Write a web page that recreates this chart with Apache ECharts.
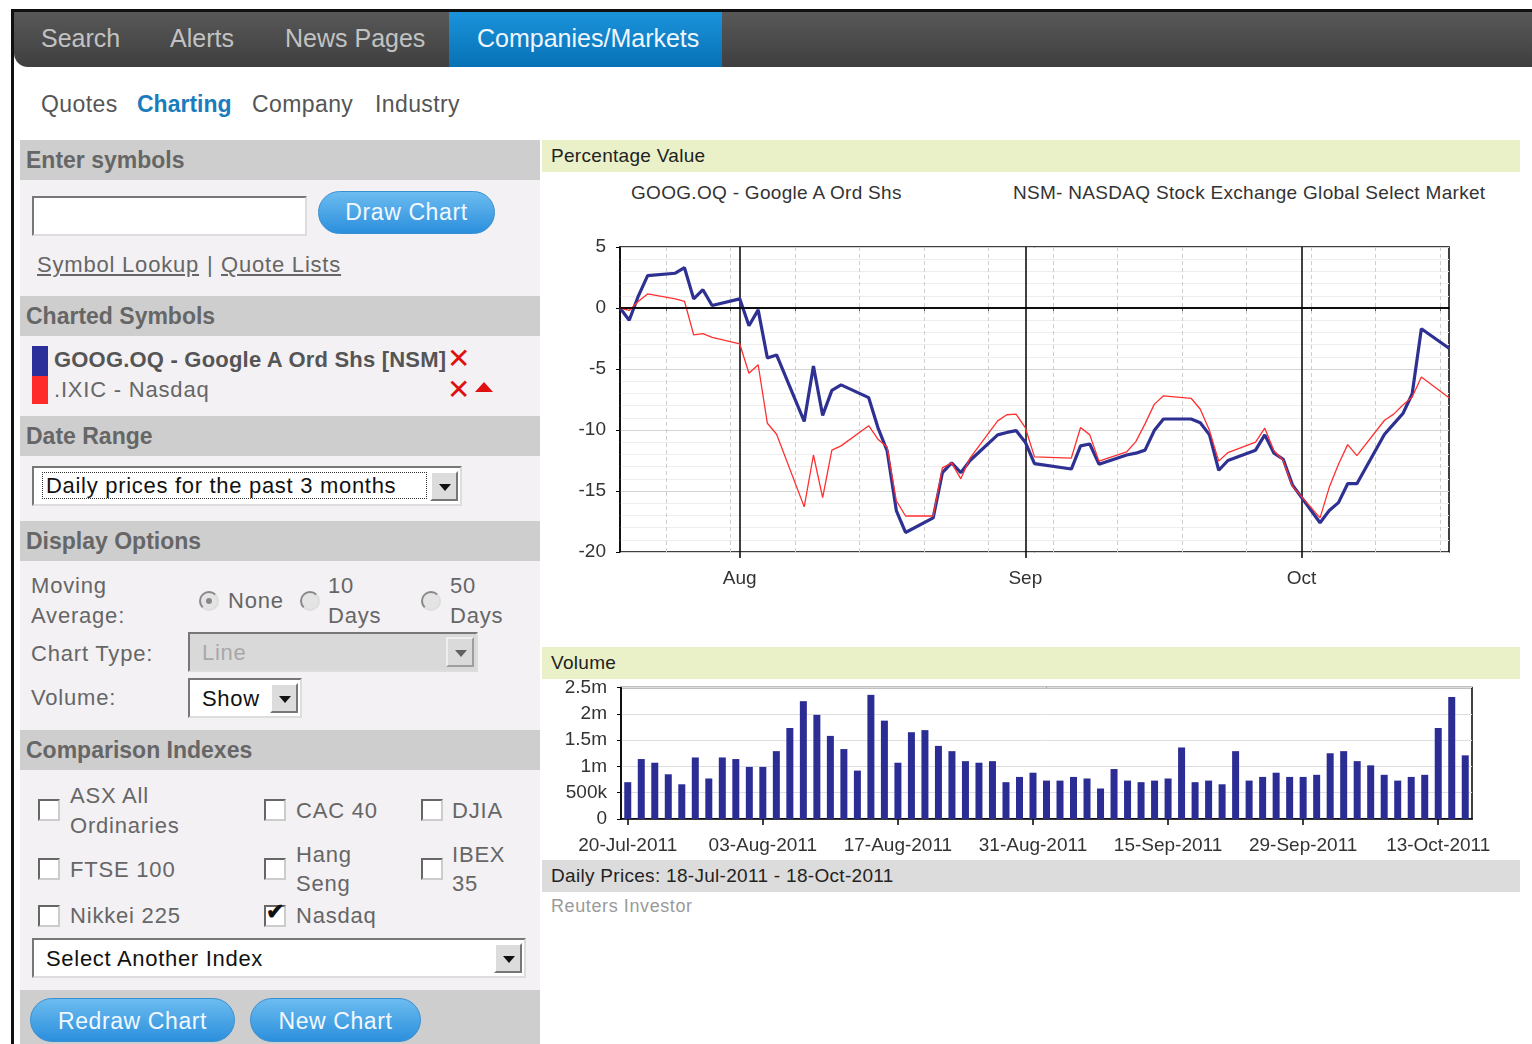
<!DOCTYPE html>
<html lang="en">
<head>
<meta charset="UTF-8">
<title>Charting</title>
<script src="https://cdn.jsdelivr.net/npm/echarts@6/dist/echarts.min.js"></script>
<style>
* { margin: 0; padding: 0; box-sizing: border-box; }
body {
    width: 1532px; height: 1044px; position: relative; overflow: hidden;
    background: #fff; color: #666;
    font-family: "Liberation Sans", Arial, sans-serif;
}
.abs { position: absolute; white-space: nowrap; }

#frameTop { left: 11px; top: 9px; width: 1521px; height: 3px; background: #111; }
#frameLeft { left: 11px; top: 9px; width: 3px; height: 1035px; background: #111; }

#nav { left: 14px; top: 12px; width: 1518px; height: 55px; background: linear-gradient(#585858, #3f3f3f); border-bottom-left-radius: 14px; }
#navActive { left: 449px; top: 12px; width: 273px; height: 55px; background: linear-gradient(#1b93db, #0771b5); }
.nav { top: 12px; height: 53px; line-height: 53px; font-size: 25px; color: #c2c2c2; }
.sub { top: 88px; height: 32px; line-height: 32px; font-size: 23px; letter-spacing: 0.4px; color: #555; }

#panel { left: 20px; top: 140px; width: 520px; height: 904px; background: #f3f1f4; }
.hdr { left: 20px; width: 520px; height: 40px; line-height: 40px; padding-left: 6px; background: #cecece; font-size: 23px; font-weight: bold; color: #666; }
.txt { font-size: 22px; letter-spacing: 0.8px; color: #666; }
.input { background: #fff; border: 2px solid #777; border-right-color: #ddd; border-bottom-color: #ddd; }
.btn { border-radius: 22px; background: linear-gradient(#6cbcf0, #2b8fdc); color: #f2f8ff; font-size: 23px; letter-spacing: 0.6px; text-align: center; border: 1px solid #3a8fd0; }
.select { background: #fff; border: 2px solid #777; border-right-color: #ddd; border-bottom-color: #ddd; font-size: 22px; letter-spacing: 0.7px; color: #111; padding-left: 8px; }
.drop { position: absolute; right: 2px; top: 3px; width: 28px; bottom: 3px; background: #dcdcdc; border: 2px solid #fff; border-right-color: #777; border-bottom-color: #777; }
.drop::after { content: ""; position: absolute; left: 7px; top: 11px; border-left: 6px solid transparent; border-right: 6px solid transparent; border-top: 7px solid #111; }
.radio { width: 20px; height: 20px; border-radius: 50%; background: #e4e4e4; border: 2px solid #888; border-right-color: #ddd; border-bottom-color: #ddd; }
.check { width: 22px; height: 22px; background: #fff; border: 2px solid #666; border-right-color: #ccc; border-bottom-color: #ccc; }

.band { left: 542px; width: 978px; height: 32px; line-height: 32px; padding-left: 9px; background: #eaf1c8; font-size: 19px; letter-spacing: 0.3px; color: #222; }
.sub2 { top: 182px; font-size: 19px; letter-spacing: 0.3px; color: #333; }

#lineChart { position: absolute; left: 542px; top: 172px; width: 990px; height: 440px; }
#volChart { position: absolute; left: 542px; top: 678px; width: 990px; height: 182px; }
</style>
</head>
<body>
<div id="frameTop" class="abs"></div>
<div id="frameLeft" class="abs"></div>

<div id="nav" class="abs"></div>
<div id="navActive" class="abs"></div>
<div class="abs nav" style="left:41px">Search</div>
<div class="abs nav" style="left:170px">Alerts</div>
<div class="abs nav" style="left:285px">News Pages</div>
<div class="abs nav" style="left:477px;color:#eef6ff">Companies/Markets</div>

<div class="abs sub" style="left:41px">Quotes</div>
<div class="abs sub" style="left:137px;color:#1a7cbc;font-weight:bold;letter-spacing:0">Charting</div>
<div class="abs sub" style="left:252px">Company</div>
<div class="abs sub" style="left:375px">Industry</div>

<!-- left panel -->
<div id="panel" class="abs"></div>
<div class="abs hdr" style="top:140px">Enter symbols</div>
<div class="abs input" style="left:32px;top:196px;width:275px;height:40px"></div>
<div class="abs btn" style="left:318px;top:191px;width:177px;height:43px;line-height:41px">Draw Chart</div>
<div class="abs txt" style="left:37px;top:252px;text-decoration:underline">Symbol Lookup</div>
<div class="abs txt" style="left:207px;top:252px">|</div>
<div class="abs txt" style="left:221px;top:252px;text-decoration:underline">Quote Lists</div>

<div class="abs hdr" style="top:296px">Charted Symbols</div>
<div class="abs" style="left:32px;top:346px;width:16px;height:30px;background:#2b2f99"></div>
<div class="abs" style="left:32px;top:376px;width:16px;height:28px;background:#ff2a2a"></div>
<div class="abs" style="left:54px;top:347px;font-size:22px;font-weight:bold;color:#555;letter-spacing:0.2px">GOOG.OQ - Google A Ord Shs [NSM]</div>
<div class="abs" style="left:54px;top:377px;font-size:22px;color:#666;letter-spacing:0.8px">.IXIC - Nasdaq</div>
<div class="abs" style="left:447px;top:342px;font-size:28px;color:#e01010">&#x2715;</div>
<div class="abs" style="left:447px;top:373px;font-size:28px;color:#e01010">&#x2715;</div>
<div class="abs" style="left:475px;top:382px;width:0;height:0;border-left:9px solid transparent;border-right:9px solid transparent;border-bottom:10px solid #e01010"></div>

<div class="abs hdr" style="top:416px">Date Range</div>
<div class="abs select" style="left:32px;top:466px;width:430px;height:40px;line-height:36px">
    <span style="border:1px dotted #333;padding:0 30px 0 3px">Daily prices for the past 3 months</span>
    <div class="drop"></div>
</div>

<div class="abs hdr" style="top:521px">Display Options</div>
<div class="abs txt" style="left:31px;top:573px">Moving</div>
<div class="abs txt" style="left:31px;top:603px">Average:</div>
<div class="abs radio" style="left:199px;top:591px"></div>
<div class="abs" style="left:206px;top:598px;width:6px;height:6px;border-radius:50%;background:#888"></div>
<div class="abs txt" style="left:228px;top:588px">None</div>
<div class="abs radio" style="left:300px;top:591px"></div>
<div class="abs txt" style="left:328px;top:573px">10</div>
<div class="abs txt" style="left:328px;top:603px">Days</div>
<div class="abs radio" style="left:421px;top:591px"></div>
<div class="abs txt" style="left:450px;top:573px">50</div>
<div class="abs txt" style="left:450px;top:603px">Days</div>
<div class="abs txt" style="left:31px;top:641px">Chart Type:</div>
<div class="abs select" style="left:188px;top:632px;width:290px;height:40px;line-height:38px;background:#d9d9d9;color:#a8a8a8;padding-left:12px">Line<div class="drop" style="opacity:0.6"></div></div>
<div class="abs txt" style="left:31px;top:685px">Volume:</div>
<div class="abs select" style="left:188px;top:678px;width:114px;height:40px;line-height:38px;padding-left:12px">Show<div class="drop"></div></div>

<div class="abs hdr" style="top:730px">Comparison Indexes</div>
<div class="abs check" style="left:38px;top:799px"></div>
<div class="abs txt" style="left:70px;top:783px">ASX All</div>
<div class="abs txt" style="left:70px;top:813px">Ordinaries</div>
<div class="abs check" style="left:264px;top:799px"></div>
<div class="abs txt" style="left:296px;top:798px">CAC 40</div>
<div class="abs check" style="left:421px;top:799px"></div>
<div class="abs txt" style="left:452px;top:798px">DJIA</div>
<div class="abs check" style="left:38px;top:858px"></div>
<div class="abs txt" style="left:70px;top:857px">FTSE 100</div>
<div class="abs check" style="left:264px;top:858px"></div>
<div class="abs txt" style="left:296px;top:842px">Hang</div>
<div class="abs txt" style="left:296px;top:871px">Seng</div>
<div class="abs check" style="left:421px;top:858px"></div>
<div class="abs txt" style="left:452px;top:842px">IBEX</div>
<div class="abs txt" style="left:452px;top:871px">35</div>
<div class="abs check" style="left:38px;top:905px"></div>
<div class="abs txt" style="left:70px;top:903px">Nikkei 225</div>
<div class="abs check" style="left:264px;top:905px"></div>
<div class="abs" style="left:266px;top:899px;font-size:22px;color:#111;font-weight:bold">&#x2714;</div>
<div class="abs txt" style="left:296px;top:903px">Nasdaq</div>
<div class="abs select" style="left:32px;top:938px;width:494px;height:40px;line-height:38px;padding-left:12px">Select Another Index<div class="drop"></div></div>

<div class="abs" style="left:20px;top:990px;width:520px;height:54px;background:#cecece"></div>
<div class="abs btn" style="left:30px;top:998px;width:205px;height:44px;line-height:44px">Redraw Chart</div>
<div class="abs btn" style="left:250px;top:998px;width:171px;height:44px;line-height:44px">New Chart</div>

<!-- right side -->
<div class="abs band" style="top:140px">Percentage Value</div>
<div class="abs sub2" style="left:631px">GOOG.OQ - Google A Ord Shs</div>
<div class="abs sub2" style="left:1013px">NSM- NASDAQ Stock Exchange Global Select Market</div>
<div id="lineChart"></div>
<div class="abs band" style="top:647px">Volume</div>
<div id="volChart"></div>
<div class="abs band" style="top:860px;background:#dcdcdc">Daily Prices: 18-Jul-2011 - 18-Oct-2011</div>
<div class="abs" style="left:551px;top:896px;font-size:18px;letter-spacing:0.6px;color:#9a9a9a">Reuters Investor</div>

<script>
// trading days shown on the percentage chart
const tradeDates = [
    '2011-07-19', '2011-07-20', '2011-07-21', '2011-07-22', '2011-07-25', '2011-07-26', '2011-07-27', '2011-07-28', '2011-07-29',
    '2011-08-01', '2011-08-02', '2011-08-03', '2011-08-04', '2011-08-05', '2011-08-08', '2011-08-09', '2011-08-10', '2011-08-11',
    '2011-08-12', '2011-08-15', '2011-08-16', '2011-08-17', '2011-08-18', '2011-08-19', '2011-08-22', '2011-08-23', '2011-08-24',
    '2011-08-25', '2011-08-26', '2011-08-29', '2011-08-30', '2011-08-31',
    '2011-09-01', '2011-09-02', '2011-09-06', '2011-09-07', '2011-09-08', '2011-09-09', '2011-09-12', '2011-09-13', '2011-09-14',
    '2011-09-15', '2011-09-16', '2011-09-19', '2011-09-20', '2011-09-21', '2011-09-22', '2011-09-23', '2011-09-26', '2011-09-27',
    '2011-09-28', '2011-09-29', '2011-09-30',
    '2011-10-03', '2011-10-04', '2011-10-05', '2011-10-06', '2011-10-07', '2011-10-10', '2011-10-11', '2011-10-12', '2011-10-13',
    '2011-10-14', '2011-10-17'
];

const googPct = [
    0, -1.0, 1.0, 2.65, 2.85, 3.3, 0.75, 1.5, 0.2,
    0.75, -1.45, -0.15, -4.1, -3.85, -9.3, -4.75, -8.8, -6.75, -6.3, -7.35, -9.8, -11.7, -16.6, -18.4,
    -17.2, -13.5, -12.7, -13.5, -12.5, -10.4, -10.2, -10.05,
    -11.0, -12.75, -13.2, -11.3, -11.15, -12.8, -12.05, -11.9, -11.65, -10.05, -9.1, -9.1, -9.4,
    -10.4, -13.3, -12.5, -11.65, -10.4, -11.9, -12.4, -14.5,
    -17.6, -16.6, -15.95, -14.4, -14.4, -10.35, -9.5, -8.65, -7.05, -1.7, -3.3
];

const nasdaqPct = [
    0, -0.2, 0.55, 1.15, 0.75, 0.55, -2.2, -2.1, -2.4,
    -2.95, -5.35, -4.65, -9.45, -10.35, -16.3, -12.05, -15.55, -11.65, -11.3, -9.65, -10.75, -11.4, -15.8, -17.05,
    -17.05, -13.1, -12.7, -14.0, -12.3, -9.25, -8.75, -8.7,
    -9.8, -12.2, -12.3, -9.8, -10.4, -12.55, -11.8, -10.95, -9.5, -7.9, -7.2, -7.4, -8.3,
    -10.05, -12.55, -11.85, -11.0, -9.85, -11.7, -12.5, -14.6,
    -17.2, -14.7, -12.8, -11.2, -12.1, -9.2, -8.7, -7.95, -7.3, -5.65, -7.35
];

// volume bars, millions of shares, 20-Jul-2011 .. 17-Oct-2011
const volumeM = [
    0.70, 1.14, 1.07, 0.85, 0.66, 1.17, 0.77, 1.17, 1.14, 0.99, 0.99, 1.29, 1.73, 2.24, 1.98, 1.58, 1.33, 0.92,
    2.36, 1.87, 1.07, 1.65, 1.69, 1.39, 1.29, 1.10, 1.07, 1.10, 0.70, 0.80, 0.88, 0.73, 0.73, 0.80, 0.77, 0.58,
    0.95, 0.73, 0.70, 0.73, 0.77, 1.36,
    0.70, 0.73, 0.66, 1.29, 0.73, 0.80, 0.88, 0.80, 0.80, 0.84, 1.25, 1.29, 1.10, 1.02, 0.84, 0.73, 0.80, 0.84,
    1.73, 2.32, 1.21
];

const weekLines = ['2011-07-24', '2011-07-31', '2011-08-07', '2011-08-14', '2011-08-21', '2011-08-28', '2011-09-04',
    '2011-09-11', '2011-09-18', '2011-09-25', '2011-10-02', '2011-10-09', '2011-10-16'];
const monthTicks = ['2011-08-01', '2011-09-01', '2011-10-01'];
const monthLabels = ['Aug', 'Sep', 'Oct'];
const monNames = ['Jan', 'Feb', 'Mar', 'Apr', 'May', 'Jun', 'Jul', 'Aug', 'Sep', 'Oct', 'Nov', 'Dec'];

const ts = s => Date.parse(s);
const labelFont = { fontFamily: '"Liberation Sans", Arial, sans-serif', fontSize: 19, color: '#333' };

function drawLine() {
    const chart = echarts.init(document.getElementById('lineChart'), null, { renderer: 'canvas' });
    const monthTs = monthTicks.map(ts);
    // dates are plotted on a plain value axis (ms timestamps) so custom ticks can be used
    const xBase = { type: 'value', min: ts('2011-07-19'), max: ts('2011-10-17'), position: 'bottom', scale: true };
    chart.setOption({
        animation: false,
        grid: { left: 78, top: 75, width: 829, height: 305, show: true, borderColor: '#000', borderWidth: 1.5 },
        xAxis: [
            Object.assign({}, xBase, {
                axisLine: { show: true, lineStyle: { color: '#000', width: 1.5 } },
                axisTick: { show: true, customValues: weekLines.map(ts), length: 3, lineStyle: { color: '#555' } },
                axisLabel: { show: false },
                splitLine: { show: true, lineStyle: { color: '#cfcfcf', type: [4, 3] } }
            }),
            Object.assign({}, xBase, {
                axisLine: { show: false },
                axisTick: { show: true, customValues: monthTs, length: 6, lineStyle: { color: '#000', width: 1.5 } },
                axisLabel: Object.assign({
                    customValues: monthTs, margin: 17,
                    formatter: v => monthLabels[monthTs.indexOf(v)] || ''
                }, labelFont),
                splitLine: { show: true, lineStyle: { color: '#000', width: 1.5 } }
            })
        ],
        yAxis: {
            type: 'value', min: -20, max: 5, interval: 5,
            axisLine: { show: true, lineStyle: { color: '#000', width: 1.5 } },
            axisTick: { show: true, length: 4, lineStyle: { color: '#000' } },
            axisLabel: Object.assign({ margin: 14 }, labelFont),
            splitLine: { show: true, lineStyle: { color: '#d4d4d4' } },
            minorTick: { show: false, splitNumber: 5 },
            minorSplitLine: { show: true, lineStyle: { color: '#eeeeee' } }
        },
        series: [
            {
                name: 'GOOG.OQ', type: 'line', xAxisIndex: 0, showSymbol: false,
                data: tradeDates.map((d, i) => [ts(d), googPct[i]]),
                lineStyle: { color: '#2e3192', width: 3.2 },
                markLine: {
                    silent: true, symbol: 'none', label: { show: false },
                    lineStyle: { color: '#000', width: 1.5, type: 'solid' },
                    data: [{ yAxis: 0 }]
                }
            },
            {
                name: '.IXIC', type: 'line', xAxisIndex: 0, showSymbol: false,
                data: tradeDates.map((d, i) => [ts(d), nasdaqPct[i]]),
                lineStyle: { color: '#ff3030', width: 1.3 }
            }
        ]
    });
}

function drawVolume() {
    const chart = echarts.init(document.getElementById('volChart'), null, { renderer: 'canvas' });
    const cats = tradeDates.slice(1).map(d => {
        const p = d.split('-');
        return p[2] + '-' + monNames[Number(p[1]) - 1] + '-' + p[0];
    });
    const every10 = idx => idx % 10 === 0;
    chart.setOption({
        animation: false,
        grid: { left: 79, top: 8, width: 851, height: 133, show: true, borderColor: '#000', borderWidth: 1.5 },
        xAxis: {
            type: 'category', data: cats,
            axisLine: { show: true, lineStyle: { color: '#000', width: 1.5 } },
            axisTick: { show: true, alignWithLabel: true, interval: every10, length: 6, lineStyle: { color: '#000', width: 1.5 } },
            axisLabel: Object.assign({ interval: every10, margin: 17 }, labelFont),
            splitLine: { show: false }
        },
        yAxis: {
            type: 'value', min: 0, max: 2.5, interval: 0.5,
            axisLine: { show: true, lineStyle: { color: '#000', width: 1.5 } },
            axisTick: { show: true, length: 4, lineStyle: { color: '#000' } },
            axisLabel: Object.assign({
                margin: 14,
                formatter: v => v === 0 ? '0' : (v < 1 ? Math.round(v * 1000) + 'k' : v + 'm')
            }, labelFont),
            splitLine: { show: true, lineStyle: { color: '#dedede' } }
        },
        series: [{
            type: 'bar', data: volumeM, barWidth: 7,
            itemStyle: { color: '#2b2d94' }
        }]
    });
}

drawVolume();
drawLine();
</script>
</body>
</html>
